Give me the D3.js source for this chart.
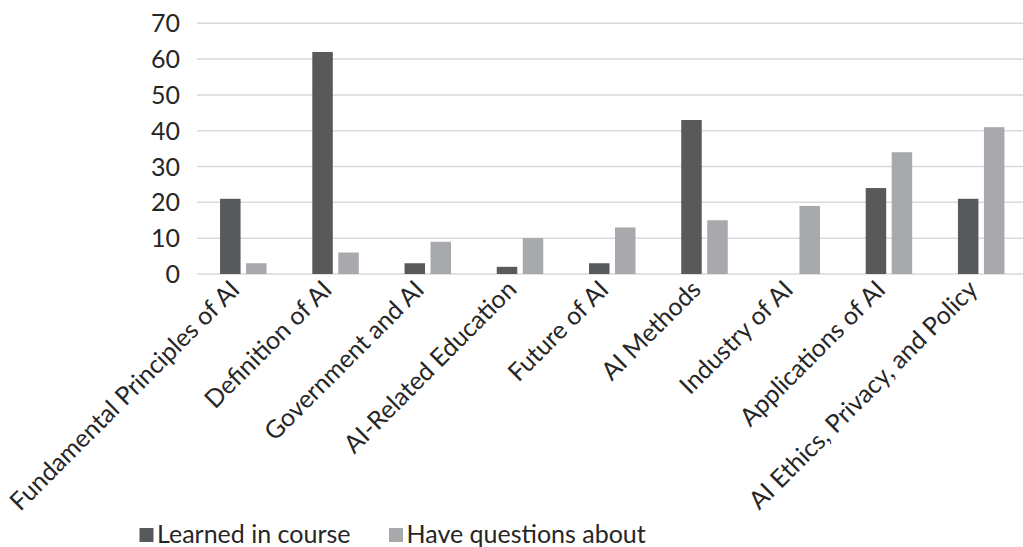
<!DOCTYPE html>
<html><head><meta charset="utf-8">
<script src="https://cdn.jsdelivr.net/npm/d3@7"></script>
<style>body{margin:0;background:#fff;}svg{display:block;}text{font-family:Lato,"Open Sans",sans-serif;fill:#262626;}</style>
</head><body><svg id="c" width="1023" height="547"></svg>
<script>
const categories = ["Fundamental Principles of AI","Definition of AI","Government and AI","AI-Related Education","Future of AI","AI Methods","Industry of AI","Applications of AI","AI Ethics, Privacy, and Policy"];
const learned = [21,62,3,2,3,43,0,24,21];
const questions = [3,6,9,10,13,15,19,34,41];
const seriesNames = ["Learned in course","Have questions about"];
const yTicks = [0,10,20,30,40,50,60,70];
const colors = ["#58595b","#a7a9ac"];

const svg = d3.select("#c");
const x = d3.scaleBand().domain(categories).range([197.2,1027.3]);
const y = d3.scaleLinear().domain([0,70]).range([274,23.3]);
const barW = 20.5, gap = 5.5;

svg.append("g").selectAll("line").data(yTicks).join("line")
  .attr("x1",197).attr("x2",1023).attr("y1",d=>y(d)).attr("y2",d=>y(d))
  .attr("stroke","#d9d9d9").attr("stroke-width",1.5);

svg.append("g").selectAll("text").data(yTicks).join("text")
  .attr("x",180).attr("y",d=>y(d)).attr("dy","0.36em").attr("text-anchor","end")
  .style("font-size","25px").text(d=>d);

const series = [learned, questions];
series.forEach((vals,si)=>{
  svg.append("g").selectAll("rect").data(vals).join("rect")
    .attr("x",(d,i)=>x(categories[i])+x.bandwidth()/2 + (si===0 ? -gap/2-barW : gap/2))
    .attr("width",barW)
    .attr("y",d=>y(d)).attr("height",d=>y(0)-y(d))
    .attr("fill",colors[si]);
});

svg.append("g").selectAll("text").data(categories).join("text")
  .attr("transform",d=>`translate(${x(d)+x.bandwidth()/2-2},${291}) rotate(-45)`)
  .attr("text-anchor","end").style("font-size","25px").text(d=>d);

const leg = svg.append("g");
const legX = [139.5, 389];
seriesNames.forEach((n,i)=>{
  leg.append("rect").attr("x",legX[i]).attr("y",528).attr("width",14).attr("height",14).attr("fill",colors[i]);
  leg.append("text").attr("x",legX[i]+17.5).attr("y",542.5).style("font-size","25px").text(n);
});
</script></body></html>
